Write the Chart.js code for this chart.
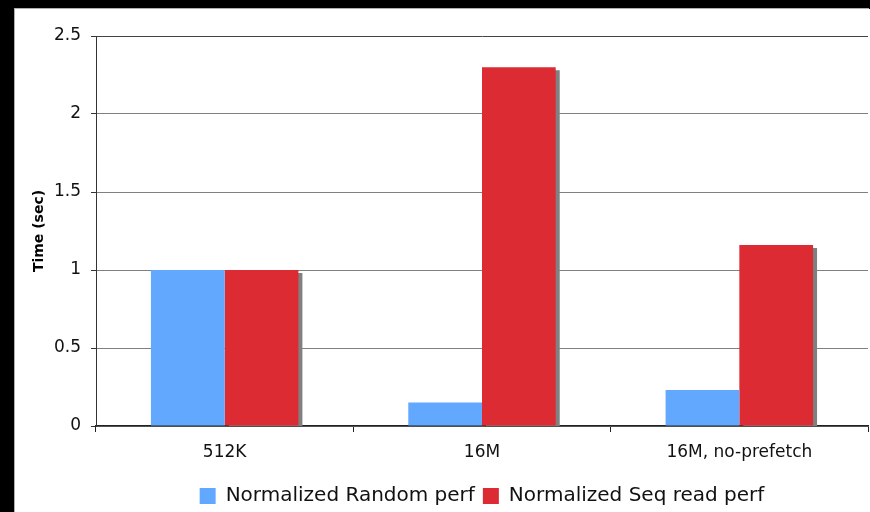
<!DOCTYPE html>
<html>
<head>
<meta charset="utf-8">
<script src="https://cdn.jsdelivr.net/npm/chart.js@4"></script>
<style>
    html, body { margin: 0; padding: 0; background: #000; overflow: hidden; width: 870px; height: 512px; }
    #frame { position: absolute; left: 15px; top: 9px; width: 855px; height: 507px; background: #fff; box-shadow: -1px -1px 0 #b0b0b0; }
    canvas { display: block; }
</style>
</head>
<body>
<div id="frame"><canvas id="perfChart" width="855" height="507"></canvas></div>
<script>
// Data
const categories = ['512K', '16M', '16M, no-prefetch'];
const randomPerf = [1, 0.15, 0.23];
const seqReadPerf = [1, 2.3, 1.16];
const yTicks = [0, 0.5, 1, 1.5, 2, 2.5];

// Grey drop shadow behind the red bars
const barShadow = {
    id: 'barShadow',
    beforeDatasetDraw(chart, args) {
        if (args.index !== 1) return;
        const ctx = chart.ctx;
        ctx.save();
        ctx.shadowColor = '#808080';
        ctx.shadowOffsetX = 4;
        ctx.shadowOffsetY = 3;
        ctx.shadowBlur = 0;
    },
    afterDatasetDraw(chart, args) {
        if (args.index !== 1) return;
        chart.ctx.restore();
    }
};

const tickFont = { family: '"DejaVu Sans", Verdana, sans-serif', size: 17 };

new Chart(document.getElementById('perfChart'), {
    type: 'bar',
    data: {
        labels: categories,
        datasets: [{
            label: 'Normalized Random perf',
            data: randomPerf,
            backgroundColor: '#63a8ff',
            categoryPercentage: 0.573,
            barPercentage: 1,
            clip: 0
        }, {
            label: 'Normalized Seq read perf',
            data: seqReadPerf,
            backgroundColor: '#dc2b32',
            categoryPercentage: 0.573,
            barPercentage: 1,
            clip: 0
        }]
    },
    options: {
        responsive: false,
        animation: false,
        devicePixelRatio: 1,
        layout: {
            padding: { top: 27, right: 2, bottom: 0, left: 0 }
        },
        scales: {
            x: {
                grid: {
                    offset: true,
                    drawOnChartArea: false,
                    tickLength: 6,
                    color: '#222'
                },
                border: { color: '#222', width: 1.5 },
                ticks: { font: tickFont, color: '#111', padding: 10, maxRotation: 0 },
                afterFit(scale) { scale.height = 52; }
            },
            y: {
                min: 0,
                max: 2.5,
                afterBuildTicks(scale) {
                    scale.ticks = yTicks.map(v => ({ value: v }));
                },
                grid: {
                    color: ctx => (ctx.tick && ctx.tick.value === 2.5) ? '#444' : '#808080',
                    tickColor: '#333',
                    tickLength: 5
                },
                border: { color: '#333' },
                ticks: {
                    font: tickFont,
                    color: '#111',
                    padding: 10,
                    callback: v => String(v)
                },
                title: {
                    display: true,
                    text: 'Time (sec)',
                    color: '#000',
                    font: { family: '"DejaVu Sans", Verdana, sans-serif', size: 14, weight: 'bold' },
                    padding: { top: 16, bottom: 0 }
                },
                afterFit(scale) { scale.width = 81; }
            }
        },
        plugins: {
            legend: {
                position: 'bottom',
                fullSize: false,
                labels: {
                    boxWidth: 16,
                    boxHeight: 16,
                    padding: 8,
                    color: '#111',
                    font: { family: '"DejaVu Sans", Verdana, sans-serif', size: 20 }
                }
            },
            tooltip: { enabled: false }
        }
    },
    plugins: [barShadow]
});
</script>
</body>
</html>
